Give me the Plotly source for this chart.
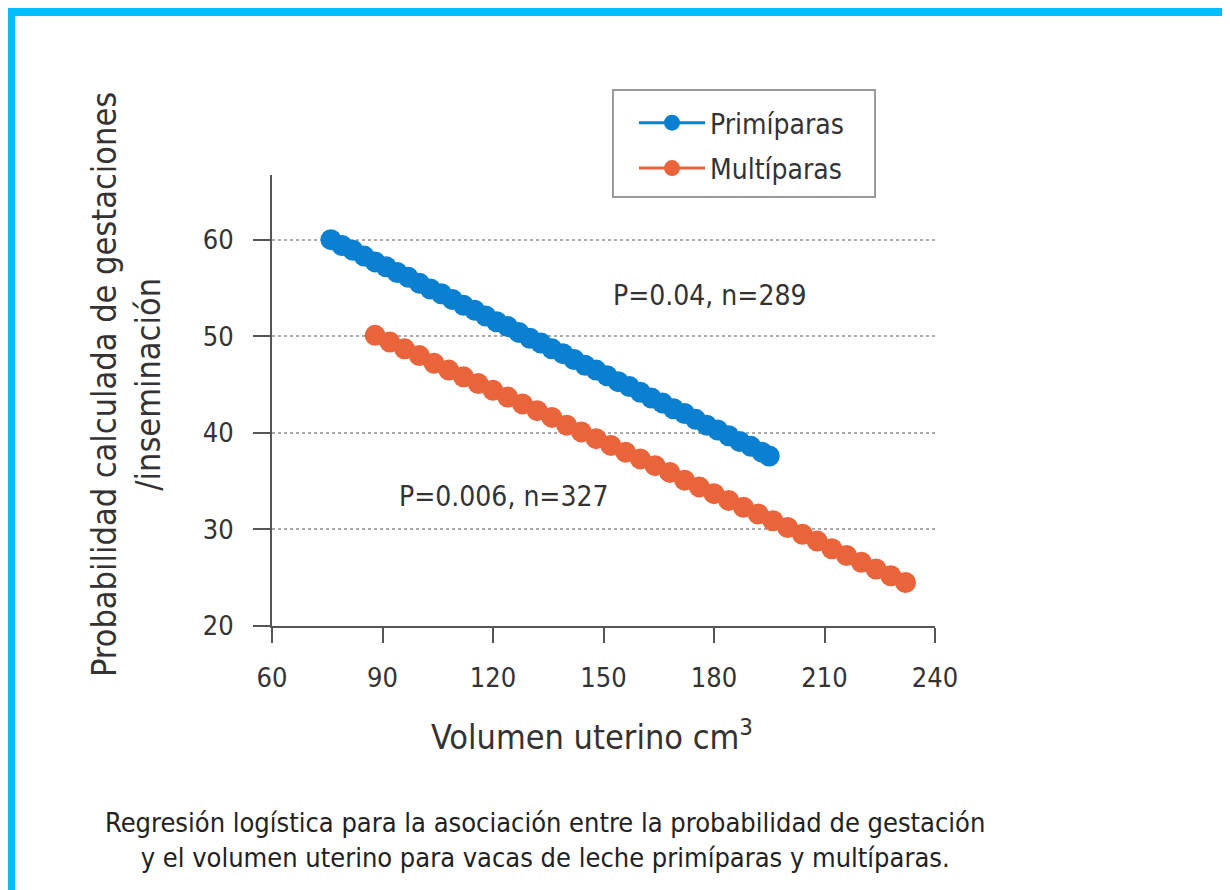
import plotly.graph_objects as go

# ---------------- data ----------------
prim_x = [76, 79, 82, 85, 88, 91, 94, 97, 100, 103, 106, 109, 112, 115, 118, 121,
          124, 127, 130, 133, 136, 139, 142, 145, 148, 151, 154, 157, 160, 163, 166,
          169, 172, 175, 178, 181, 184, 187, 190, 193, 195]
prim_y = [60.0, 59.4, 58.9, 58.3, 57.7, 57.2, 56.6, 56.1, 55.5, 54.9, 54.4, 53.8,
          53.2, 52.7, 52.1, 51.5, 51.0, 50.4, 49.8, 49.3, 48.7, 48.2, 47.6, 47.0,
          46.5, 45.9, 45.3, 44.8, 44.2, 43.6, 43.1, 42.5, 42.0, 41.4, 40.8, 40.3,
          39.7, 39.1, 38.6, 38.0, 37.6]

multi_x = [88, 92, 96, 100, 104, 108, 112, 116, 120, 124, 128, 132, 136, 140, 144,
           148, 152, 156, 160, 164, 168, 172, 176, 180, 184, 188, 192, 196, 200, 204,
           208, 212, 216, 220, 224, 228, 232]
multi_y = [50.1, 49.4, 48.7, 48.0, 47.2, 46.5, 45.8, 45.1, 44.4, 43.7, 43.0, 42.3,
           41.6, 40.8, 40.1, 39.4, 38.7, 38.0, 37.3, 36.6, 35.9, 35.1, 34.4, 33.7,
           33.0, 32.3, 31.6, 30.9, 30.2, 29.5, 28.8, 28.0, 27.3, 26.6, 25.9, 25.2, 24.5]

series_names = ["Primíparas", "Multíparas"]
x_ticks = [60, 90, 120, 150, 180, 210, 240]
y_ticks = [20, 30, 40, 50, 60]
annot_texts = ["P=0.04, n=289", "P=0.006, n=327"]
annot_pos = [(179, 54.2), (123, 33.4)]
x_title = "Volumen uterino cm<sup>3</sup>"
y_title = "Probabilidad calculada de gestaciones<br>/inseminación"
caption = ("Regresión logística para la asociación entre la probabilidad de gestación<br>"
           "y el volumen uterino para vacas de leche primíparas y multíparas.")

# ---------------- style ----------------
OFF = 8  # browser body margin
W, H = 1230 - OFF, 890 - OFF
# plot area in screenshot pixels
SL, SR, ST, SB = 272, 935, 175, 626
L, R, T, B = SL - OFF, SR - OFF, ST - OFF, SB - OFF
FONT = "DejaVu Sans Condensed, Liberation Sans Narrow, Arial Narrow, sans-serif"
BLUE = "#0B80D0"
ORANGE = "#E9643B"
TXT = "#333333"
AX = "#555555"
FRAME = "#00BEFF"


def px2paper(px, py):
    """screenshot pixel -> paper coords"""
    return (px - SL) / (SR - SL), (SB - py) / (SB - ST)


fig = go.Figure()
fig.add_trace(go.Scatter(x=prim_x, y=prim_y, mode="lines+markers", name=series_names[0],
                         line=dict(color=BLUE, width=3),
                         marker=dict(color=BLUE, size=21),
                         legendgroup="a", cliponaxis=False))
fig.add_trace(go.Scatter(x=multi_x, y=multi_y, mode="lines+markers", name=series_names[1],
                         line=dict(color=ORANGE, width=3),
                         marker=dict(color=ORANGE, size=21),
                         legendgroup="b", cliponaxis=False))

annotations = []
for t, (ax_, ay_) in zip(annot_texts, annot_pos):
    annotations.append(dict(x=ax_, y=ay_, xref="x", yref="y", text=t, showarrow=False,
                            xanchor="center", yanchor="middle",
                            font=dict(size=28, color=TXT, family=FONT)))

# y title
yx, yy = px2paper(126, 385)
annotations.append(dict(x=yx, y=yy, xref="paper", yref="paper", text=y_title,
                        showarrow=False, textangle=-90, xanchor="center", yanchor="middle",
                        font=dict(size=34, color=TXT, family=FONT)))
# x title
xx, xy = px2paper(592, 735)
annotations.append(dict(x=xx, y=xy, xref="paper", yref="paper", text=x_title,
                        showarrow=False, xanchor="center", yanchor="middle",
                        font=dict(size=34, color=TXT, family=FONT)))
# caption
cx, cy = px2paper(545, 840)
annotations.append(dict(x=cx, y=cy, xref="paper", yref="paper", text=caption,
                        showarrow=False, align="center", xanchor="center", yanchor="middle",
                        font=dict(size=27, color="#222222", family=FONT)))

shapes = []


def rect(x0, y0, x1, y1, fill=FRAME, line=None):
    a0, b0 = px2paper(x0, y0)
    a1, b1 = px2paper(x1, y1)
    shapes.append(dict(type="rect", xref="paper", yref="paper", x0=a0, y0=b0, x1=a1, y1=b1,
                       fillcolor=fill, line=line or dict(width=0), layer="above"))


rect(3, 8, 1230, 16)
rect(3, 8, 15, 890)
rect(1222, 8, 1230, 890)
# legend box
rect(613, 90, 875, 197, fill="rgba(0,0,0,0)", line=dict(color="#9a9a9a", width=2))

lx, ly = px2paper(634, 98)

fig.update_layout(
    width=W, height=H,
    margin=dict(l=L, r=W - R, t=T, b=H - B),
    paper_bgcolor="white", plot_bgcolor="white",
    font=dict(family=FONT, color=TXT, size=26),
    showlegend=True,
    legend=dict(x=lx, y=ly, xanchor="left", yanchor="top",
                borderwidth=0, bgcolor="rgba(0,0,0,0)",
                font=dict(size=28, color=TXT, family=FONT),
                traceorder="grouped", tracegroupgap=6,
                itemwidth=66),
    annotations=annotations,
    shapes=shapes,
    xaxis=dict(range=[60, 240], tickvals=x_ticks, showgrid=False, zeroline=False,
               showline=True, linecolor=AX, linewidth=2,
               ticks="outside", ticklen=15, tickwidth=2, tickcolor=AX,
               ticklabelstandoff=12,
               tickfont=dict(size=27, color=TXT, family=FONT)),
    yaxis=dict(range=[20, 66.7], tickvals=y_ticks, showgrid=True,
               gridcolor="#aaaaaa", gridwidth=2, griddash="dot",
               zeroline=False, showline=True, linecolor=AX, linewidth=2,
               ticks="outside", ticklen=17, tickwidth=2, tickcolor=AX,
               ticklabelstandoff=14,
               tickfont=dict(size=27, color=TXT, family=FONT)),
)

fig.write_html("out.html")
